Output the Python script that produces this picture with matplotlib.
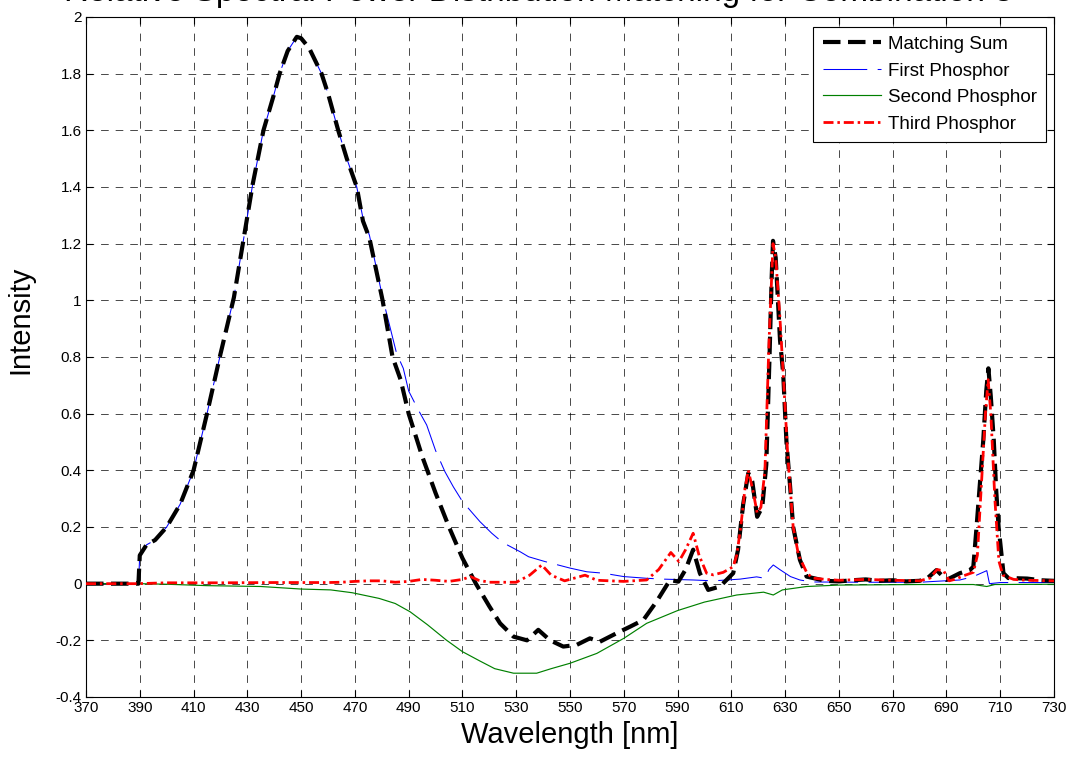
import matplotlib
matplotlib.use("Agg")
import matplotlib.pyplot as plt
import numpy as np

plt.rcParams['font.family'] = ['Liberation Sans', 'DejaVu Sans']
plt.rcParams['axes.unicode_minus'] = False

title_text = "Relative Spectral Power Distribution Matching for Combination 3"
x_label = "Wavelength [nm]"
y_label = "Intensity"
legend_labels = ["Matching Sum", "First Phosphor", "Second Phosphor", "Third Phosphor"]

x_ticks = list(range(370, 731, 20))
y_ticks = [-0.4, -0.2, 0, 0.2, 0.4, 0.6, 0.8, 1, 1.2, 1.4, 1.6, 1.8, 2]
y_tick_labels = ["-0.4", "-0.2", "0", "0.2", "0.4", "0.6", "0.8", "1", "1.2", "1.4", "1.6", "1.8", "2"]

# Matching Sum (black dashed)
sum_wl = [370, 380, 389, 389.5, 390, 392.5, 395.7, 400, 405, 410, 415, 420, 425, 428.5, 432, 436, 440,
          442, 445, 448.4, 450, 453, 457.6, 460, 463.8, 467, 470.7, 473, 475.4, 480.3, 484, 487, 490,
          495, 500, 505, 510, 515, 520, 524, 529, 534, 538.2, 542.6, 547.5, 552.5, 557.4, 561.1, 567.3,
          572.3, 577.3, 582.2, 587.2, 590.3, 593, 595.8, 598.3, 601.4, 605.8, 610.7, 612.5, 614.4,
          616.3, 617.8, 619.6, 621.5, 623, 624.2, 625, 625.5, 626.5, 628.1, 629.3, 630.5, 631.8, 633,
          635.5, 638, 645, 650, 655, 660, 665, 670, 675, 680, 683, 686.3, 690, 695, 698.7, 700, 701.2,
          702.5, 703.7, 704.8, 705.6, 706.5, 707.6, 708.5, 709.4, 711.2, 713, 720, 725, 730]
sum_val = [0, 0, 0, 0.0, 0.10, 0.137, 0.154, 0.20, 0.28, 0.40, 0.60, 0.81, 1.01, 1.21, 1.41, 1.60, 1.73,
           1.80, 1.88, 1.93, 1.925, 1.89, 1.80, 1.73, 1.60, 1.50, 1.40, 1.28, 1.22, 1.00, 0.80, 0.72, 0.60,
           0.45, 0.32, 0.20, 0.09, 0.0, -0.08, -0.14, -0.187, -0.20, -0.163, -0.20, -0.222, -0.216, -0.193,
           -0.205, -0.175, -0.152, -0.128, -0.063, 0.013, 0.007, 0.05, 0.12, 0.037, -0.022, -0.01, 0.037,
           0.12, 0.28, 0.39, 0.36, 0.236, 0.27, 0.42, 0.80, 1.08, 1.21, 1.15, 0.86, 0.74, 0.50, 0.35, 0.20,
           0.084, 0.025, 0.01, 0.008, 0.012, 0.015, 0.01, 0.012, 0.008, 0.01, 0.02, 0.048, 0.013, 0.037,
           0.048, 0.06, 0.20, 0.36, 0.507, 0.68, 0.76, 0.66, 0.507, 0.33, 0.20, 0.037, 0.02, 0.018, 0.012,
           0.01]

# First Phosphor (blue)
first_wl = [370, 380, 389, 389.5, 390, 392.5, 395.7, 400, 405, 410, 415, 420, 425, 428.5, 432, 436, 440,
            442, 445, 448.4, 450, 453, 457.6, 460, 463.8, 467, 470.7, 473, 475.4, 480.3, 485.5, 488, 490,
            493.6, 496.7, 500, 503.5, 506.6, 510, 516.5, 520.9, 525, 531.4, 534.6, 540.7, 550, 556.2,
            562.4, 570, 578.5, 584.7, 595.8, 603.3, 613.2, 619.4, 622.5, 624, 625.6, 628, 632, 635.5, 640,
            660, 680, 695, 700, 705, 706, 710, 720, 730]
first_val = [0, 0, 0, 0.0, 0.10, 0.137, 0.154, 0.20, 0.28, 0.40, 0.60, 0.81, 1.01, 1.21, 1.41, 1.60, 1.73,
             1.80, 1.88, 1.93, 1.925, 1.89, 1.80, 1.73, 1.60, 1.50, 1.40, 1.29, 1.23, 1.01, 0.813, 0.76, 0.68,
             0.613, 0.56, 0.47, 0.395, 0.342, 0.29, 0.219, 0.178, 0.145, 0.113, 0.095, 0.078, 0.055, 0.042,
             0.037, 0.025, 0.019, 0.016, 0.013, 0.01, 0.016, 0.024, 0.019, 0.05, 0.066, 0.05, 0.025, 0.013,
             0.006, 0.005, 0.005, 0.013, 0.025, 0.046, 0.0, 0.004, 0.004, 0.004]

# Second Phosphor (green)
second_wl = [370, 390, 400, 415, 435, 450, 461, 469, 479, 485, 490.5, 497, 504, 510, 516.5, 522, 529,
             537.6, 543, 550, 560, 570, 578.5, 590, 600, 612, 622, 625.6, 629, 638, 650, 680, 700, 705,
             708, 730]
second_val = [0, 0, -0.002, -0.007, -0.01, -0.019, -0.022, -0.032, -0.052, -0.07, -0.099, -0.145, -0.199,
              -0.24, -0.273, -0.30, -0.316, -0.316, -0.30, -0.281, -0.246, -0.193, -0.14, -0.095, -0.065,
              -0.04, -0.03, -0.04, -0.022, -0.01, -0.005, -0.003, -0.003, -0.01, -0.003, -0.002]

# Third Phosphor (red)
third_wl = [370, 389, 400, 420, 440, 460, 465, 470, 475, 480, 485, 490, 495, 500, 505, 510, 513, 516, 520,
            530, 535, 539.5, 543, 548, 555.6, 560, 570, 578.5, 583, 587.5, 590.5, 593, 595.8, 598, 600.8,
            603.3, 607, 610.7, 612, 613.5, 615, 616.3, 618, 619.6, 621, 622.5, 624, 625.5, 626.5, 628,
            629.3, 631, 633, 635, 638, 640, 645, 650, 660, 670, 680, 684, 686.5, 689, 691, 693, 697, 700,
            701.5, 703, 704.5, 705.5, 706.5, 708, 709.5, 711, 715, 720, 730]
third_val = [0, 0, 0.003, 0.003, 0.004, 0.004, 0.005, 0.008, 0.01, 0.01, 0.005, 0.008, 0.015, 0.012, 0.008,
             0.015, 0.025, 0.012, 0.005, 0.005, 0.03, 0.066, 0.03, 0.01, 0.03, 0.012, 0.008, 0.013, 0.05,
             0.11, 0.078, 0.12, 0.178, 0.10, 0.037, 0.031, 0.04, 0.06, 0.10, 0.20, 0.33, 0.40, 0.33, 0.25,
             0.27, 0.40, 0.85, 1.20, 1.15, 0.95, 0.74, 0.45, 0.20, 0.10, 0.04, 0.02, 0.015, 0.012, 0.015,
             0.012, 0.01, 0.02, 0.05, 0.045, 0.01, 0.015, 0.03, 0.04, 0.10, 0.35, 0.60, 0.72, 0.60, 0.30,
             0.08, 0.03, 0.015, 0.012, 0.01]

fig = plt.figure(figsize=(10.76, 7.65), dpi=100)
ax = fig.add_axes([86 / 1076, 1 - 697 / 765, 968 / 1076, 680 / 765])

l_sum, = ax.plot(sum_wl, sum_val, color='black', lw=3.0, linestyle=(0, (4.2, 1.8)), zorder=5)
l_first, = ax.plot(first_wl, first_val, color='#0000ff', lw=0.75, linestyle=(0, (42, 10)), zorder=3)
l_second, = ax.plot(second_wl, second_val, color='#008000', lw=0.85, zorder=3)
l_third, = ax.plot(third_wl, third_val, color='#ff0000', lw=2.0, linestyle=(0, (3.6, 1.4, 0.9, 1.4)), zorder=6)

ax.set_xlim(370, 730)
ax.set_ylim(-0.4, 2)
ax.set_xticks(x_ticks)
ax.set_xticklabels([str(t) for t in x_ticks])
ax.set_yticks(y_ticks)
ax.set_yticklabels(y_tick_labels)
ax.tick_params(direction='in', top=True, right=True, length=5, width=0.8, labelsize=11, pad=3)
ax.grid(True, color='black', lw=0.5, linestyle=(0, (11, 10)))
ax.set_axisbelow(True)
for s in ax.spines.values():
    s.set_linewidth(0.8)

ax.set_xlabel(x_label, fontsize=21, labelpad=4)
ax.set_ylabel(y_label, fontsize=21)
ax.yaxis.set_label_coords(-0.053, 0.555)

fig.text(0.5, 1 - 1.5 / 765, title_text, ha='center', va='baseline', fontsize=24)

leg = ax.legend([l_sum, l_first, l_second, l_third], legend_labels, loc='upper right',
                bbox_to_anchor=(0.992, 0.986), borderaxespad=0, fontsize=13.5, handlelength=3.1,
                labelspacing=0.5, fancybox=False, framealpha=1, edgecolor='black', borderpad=0.5,
                handletextpad=0.37)
leg.get_frame().set_linewidth(0.8)

fig.savefig("out.png", dpi=100)
